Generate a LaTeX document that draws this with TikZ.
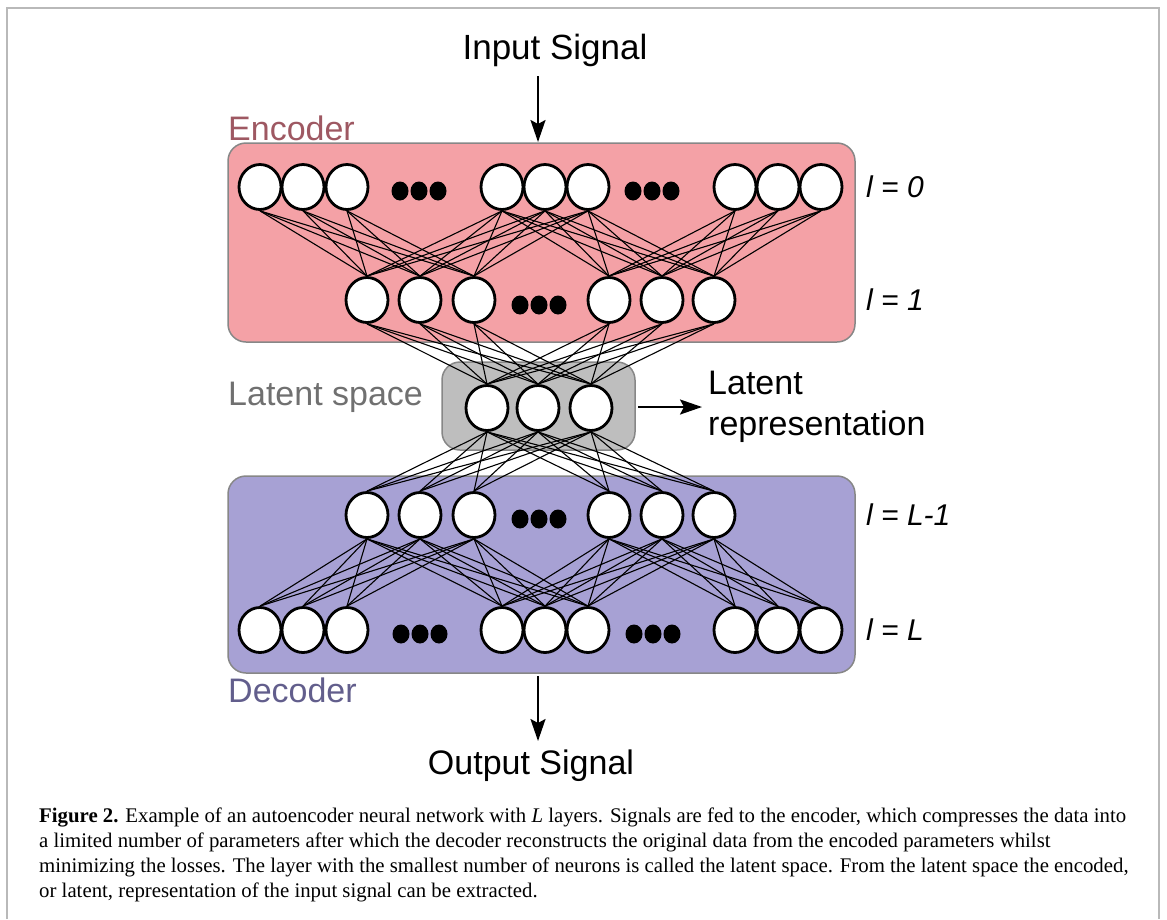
\documentclass[tikz,border=0pt]{standalone}
\usepackage{fontspec}
\setmainfont{Liberation Serif}
\setsansfont{Liberation Sans}
\usetikzlibrary{shapes.geometric,arrows.meta}
\definecolor{encfill}{RGB}{244,161,166}
\definecolor{decfill}{RGB}{167,161,212}
\definecolor{latfill}{RGB}{190,190,190}
\definecolor{boxborder}{RGB}{135,135,135}
\definecolor{enctext}{RGB}{158,88,98}
\definecolor{dectext}{RGB}{98,94,140}
\definecolor{lattext}{RGB}{112,112,112}
\definecolor{framecol}{RGB}{185,185,185}
\pgfdeclarelayer{bg}
\pgfdeclarelayer{wires}
\pgfsetlayers{bg,wires,main}
\begin{document}
\begin{tikzpicture}[x=1pt,y=-1pt,
  neuron/.style={ellipse, draw=black, line width=2.8pt, fill=white, minimum width=42pt, minimum height=45pt, inner sep=0pt},
  dotn/.style={ellipse, fill=black, minimum width=17pt, minimum height=19pt, inner sep=0pt},
  box/.style={rounded corners=18pt, draw=boxborder, line width=1.5pt},
  wire/.style={line width=1.1pt},
  sig/.style={-{Stealth[length=22pt,width=15pt,inset=4pt]}, line width=2.3pt},
  lab/.style={font=\sffamily\fontsize{34}{40}\selectfont, inner sep=0pt},
  llab/.style={font=\sffamily\itshape\fontsize{30}{36}\selectfont, inner sep=0pt, anchor=west},
  captext/.style={font=\fontsize{20.8}{25}\selectfont, inner sep=0pt, anchor=base west}
]
\useasboundingbox (0,0) rectangle (1167,919);
\draw[framecol, line width=1.5pt] (7,919) -- (7,8) -- (1159,8) -- (1159,919);

% boxes
\begin{pgfonlayer}{bg}
\draw[box, fill=encfill] (228,143) rectangle (855,342);
\draw[box, fill=latfill] (442,362) rectangle (635,450);
\draw[box, fill=decfill] (228,476) rectangle (855,673);
\end{pgfonlayer}

% layer l=0
\foreach \x [count=\i] in {260,303,347,502,545,588,735,778,821}
  \node[neuron] (a\i) at (\x,187) {};
% layer l=1
\foreach \x [count=\i] in {367,420,474,609,662,714}
  \node[neuron] (b\i) at (\x,300) {};
% latent
\foreach \x [count=\i] in {487,538,591}
  \node[neuron] (c\i) at (\x,408) {};
% layer L-1
\foreach \x [count=\i] in {367,420,474,609,662,714}
  \node[neuron] (d\i) at (\x,515) {};
% layer L
\foreach \x [count=\i] in {260,303,347,502,545,588,735,778,821}
  \node[neuron] (e\i) at (\x,630) {};

% ellipsis dots
\foreach \x [count=\i] in {400,419,438,633,652,671}
  \node[dotn] (ad\i) at (\x,191) {};
\foreach \x [count=\i] in {520,539,558}
  \node[dotn] (bd\i) at (\x,305) {};
\foreach \x [count=\i] in {520,539,558}
  \node[dotn] (dd\i) at (\x,519) {};
\foreach \x [count=\i] in {401,420,439,634,653,672}
  \node[dotn] (ed\i) at (\x,634) {};

% wires
\begin{pgfonlayer}{wires}
\foreach \s in {1,2,3} \foreach \t in {1,2,3}
  \draw[wire] (a\s.south) -- (b\t.north);
\foreach \s in {4,5,6} \foreach \t in {1,...,6}
  \draw[wire] (a\s.south) -- (b\t.north);
\foreach \s in {7,8,9} \foreach \t in {4,5,6}
  \draw[wire] (a\s.south) -- (b\t.north);
\foreach \s in {1,...,6} \foreach \t in {1,2,3}
  \draw[wire] (b\s.south) -- (c\t.north);
\foreach \s in {1,2,3} \foreach \t in {1,...,6}
  \draw[wire] (c\s.south) -- (d\t.north);
\foreach \s in {1,2,3} \foreach \t in {1,...,6}
  \draw[wire] (d\s.south) -- (e\t.north);
\foreach \s in {4,5,6} \foreach \t in {4,...,9}
  \draw[wire] (d\s.south) -- (e\t.north);
\end{pgfonlayer}

% labels
\node[lab, font=\sffamily\fontsize{35}{40}\selectfont] (insig) at (555,50) {Input Signal};
\coordinate (inA) at (538,76);
\coordinate (inB) at (538,142);
\draw[sig] (inA) -- (inB);

\node[lab, text=enctext, anchor=west] (enc) at (228,128) {Encoder};
\node[lab, text=lattext, anchor=west] (lsp) at (228,397) {Latent space};
\node[lab, text=dectext, anchor=west] (dec) at (228,690) {Decoder};

\node[llab] (l0) at (866,187) {l = 0};
\node[llab] (l1) at (866,300) {l = 1};
\node[llab] (lm) at (866,515) {l = L-1};
\node[llab] (lL) at (866,630) {l = L};

\node[lab, anchor=west] (lr1) at (708,383) {Latent};
\node[lab, anchor=west] (lr2) at (708,427) {representation};
\coordinate (latA) at (638,407);
\draw[sig, shorten >=6pt] (latA) -- (lr1.west |- latA);

\coordinate (outA) at (538,676);
\coordinate (outB) at (538,741);
\draw[sig] (outA) -- (outB);
\node[lab] (outsig) at (531,766) {Output Signal};

% caption
\node[captext] (cap1) at (39,822) {\textbf{Figure 2.} Example of an autoencoder neural network with \textit{L} layers. Signals are fed to the encoder, which compresses the data into};
\node[captext] (cap2) at (39,847) {a limited number of parameters after which the decoder reconstructs the original data from the encoded parameters whilst};
\node[captext] (cap3) at (39,872) {minimizing the losses. The layer with the smallest number of neurons is called the latent space. From the latent space the encoded,};
\node[captext] (cap4) at (39,897) {or latent, representation of the input signal can be extracted.};
\end{tikzpicture}
\end{document}
